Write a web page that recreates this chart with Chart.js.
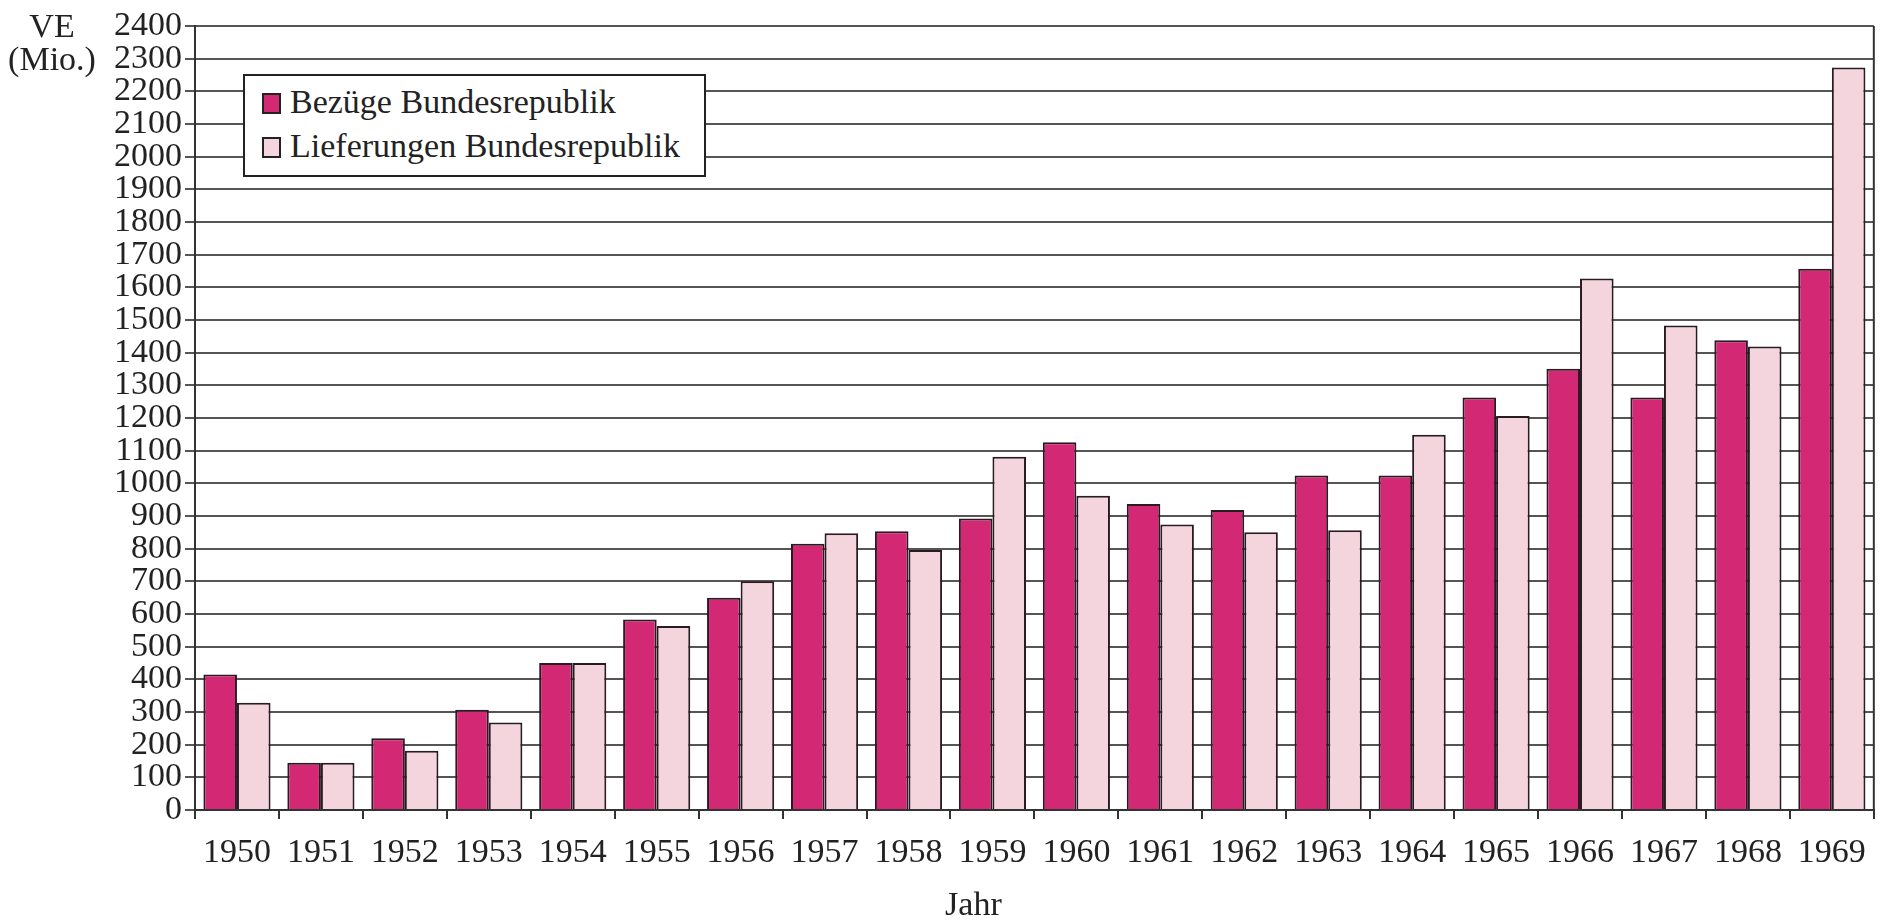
<!DOCTYPE html>
<html>
<head>
<meta charset="utf-8">
<script src="https://cdn.jsdelivr.net/npm/chart.js@4/dist/chart.umd.min.js"></script>
<style>
  body { margin: 0; background: #fff; }
  #wrap { position: relative; width: 1880px; height: 924px; }
  #legend {
    position: absolute; left: 243px; top: 74px; width: 442px; height: 95px;
    border: 2px solid #222; background: #fff;
    font-family: "Liberation Serif", serif; font-size: 34px; color: #222;
    padding: 4px 0 0 17px; box-sizing: content-box;
  }
  #legend div { height: 44px; line-height: 44px; white-space: nowrap; }
  #legend span.box {
    display: inline-block; width: 15px; height: 17px; border: 2px solid #222;
    margin-right: 9px; vertical-align: -1px;
  }
</style>
</head>
<body>
<div id="wrap">
  <canvas id="chart" width="1880" height="924"></canvas>
  <div id="legend"></div>
</div>
<script>
// Daten
const jahre = ["1950", "1951", "1952", "1953", "1954", "1955", "1956", "1957", "1958", "1959",
  "1960", "1961", "1962", "1963", "1964", "1965", "1966", "1967", "1968", "1969"];
const bezuege = [415, 145, 220, 307, 450, 583, 650, 815, 853, 892,
  1126, 937, 918, 1024, 1024, 1263, 1351, 1263, 1438, 1657];
const lieferungen = [328, 145, 181, 268, 450, 563, 700, 847, 796, 1081,
  962, 874, 850, 856, 1149, 1206, 1627, 1483, 1419, 2273];
const yTicks = { min: 0, max: 2400, step: 100 };

const serif = "'Liberation Serif', serif";
const textColor = "#222";

// Achsentitel "VE (Mio.)", "Jahr" und rechter Rahmen
const extras = {
  id: "extras",
  afterDraw(chart) {
    const ctx = chart.ctx;
    const area = chart.chartArea;
    const y = chart.scales.y;
    ctx.save();
    ctx.strokeStyle = "#333";
    ctx.lineWidth = 2;
    ctx.beginPath();
    ctx.moveTo(area.right, area.top);
    ctx.lineTo(area.right, area.bottom);
    ctx.stroke();

    ctx.fillStyle = textColor;
    ctx.font = "34px " + serif;
    ctx.textAlign = "center";
    ctx.textBaseline = "middle";
    ctx.fillText("VE", 52, y.getPixelForValue(2400) + 2);
    ctx.fillText("(Mio.)", 52, y.getPixelForValue(2300) + 2);
    // Jahr sits a bit left of the middle in the original
    ctx.fillText("Jahr", (area.left + area.right) / 2 - 61, 906);
    ctx.restore();
  },
};

const ctx = document.getElementById("chart").getContext("2d");
const chart = new Chart(ctx, {
  type: "bar",
  data: {
    labels: jahre,
    datasets: [
      {
        label: "Bezüge Bundesrepublik",
        data: bezuege,
        backgroundColor: "#D32975",
        borderColor: "#2a1a22",
        borderWidth: 2,
        borderSkipped: "bottom",
        categoryPercentage: 0.8,
        barPercentage: 1.0,
      },
      {
        label: "Lieferungen Bundesrepublik",
        data: lieferungen,
        backgroundColor: "#F4D4DD",
        borderColor: "#2a1a22",
        borderWidth: 2,
        borderSkipped: "bottom",
        categoryPercentage: 0.8,
        barPercentage: 1.0,
      },
    ],
  },
  options: {
    responsive: false,
    animation: false,
    devicePixelRatio: 1,
    layout: { padding: { top: 26, right: 6, left: 0, bottom: 0 } },
    plugins: {
      legend: { display: false },
      tooltip: { enabled: false },
    },
    scales: {
      x: {
        afterFit(scale) {
          scale.height = 114;
        },
        grid: {
          display: true,
          offset: true,
          drawOnChartArea: false,
          drawTicks: true,
          tickLength: 9,
          color: "#333",
          lineWidth: 2,
        },
        border: { display: true, color: "#333", width: 2 },
        ticks: {
          autoSkip: false,
          maxRotation: 0,
          padding: 14,
          color: textColor,
          font: { family: serif, size: 34 },
        },
      },
      y: {
        min: yTicks.min,
        max: yTicks.max,
        afterFit(scale) {
          scale.width = 195;
        },
        grid: {
          color: "#555",
          lineWidth: 2,
          tickLength: 10,
        },
        border: { display: true, color: "#333", width: 2 },
        ticks: {
          stepSize: yTicks.step,
          maxTicksLimit: 30,
          autoSkip: false,
          padding: 3,
          color: textColor,
          font: { family: serif, size: 34 },
          callback: (value) => String(value),
        },
      },
    },
  },
  plugins: [extras],
});

// Legende im Diagramm
const legend = document.getElementById("legend");
chart.data.datasets.forEach((ds) => {
  legend.innerHTML += `<div><span class="box" style="background:${ds.backgroundColor}"></span>${ds.label}</div>`;
});
</script>
</body>
</html>
